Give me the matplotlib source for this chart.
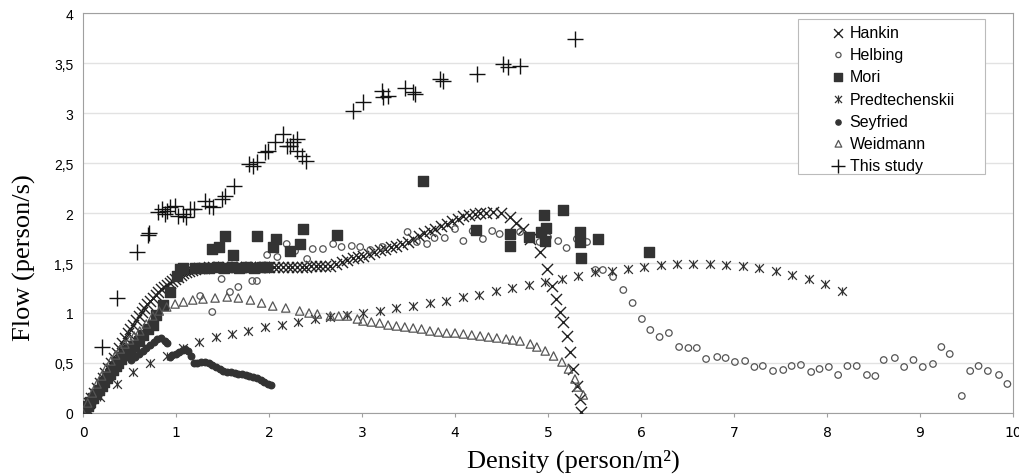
import matplotlib.pyplot as plt
from matplotlib.patches import Rectangle
from matplotlib.ticker import FuncFormatter

# Hankin (X)
hankin_x = [0.0, 0.03, 0.06, 0.09, 0.12, 0.15, 0.18, 0.21, 0.24, 0.27, 0.30, 0.33, 0.36, 0.39,
            0.42, 0.45, 0.48, 0.51, 0.54, 0.57, 0.60, 0.63, 0.66, 0.69, 0.72, 0.75, 0.78, 0.81,
            0.84, 0.87, 0.90, 0.93, 0.96, 0.99, 1.02, 1.05, 1.08, 1.11, 1.14, 1.17, 1.20, 1.25,
            1.30, 1.35, 1.40, 1.45, 1.50, 1.55, 1.60, 1.65, 1.70, 1.75, 1.80, 1.85, 1.90, 1.95,
            2.00, 2.05, 2.10, 2.15, 2.20, 2.25, 2.30, 2.35, 2.40, 2.45, 2.50, 2.55, 2.60, 2.66,
            2.72, 2.78, 2.84, 2.90, 2.96, 3.01, 3.07, 3.13, 3.19, 3.25, 3.31, 3.37, 3.43, 3.49,
            3.55, 3.61, 3.67, 3.73, 3.79, 3.85, 3.91, 3.97, 4.03, 4.09, 4.15, 4.21, 4.27, 4.33,
            4.41, 4.50, 4.59, 4.66, 4.73, 4.81, 4.91, 4.99, 5.04, 5.09, 5.13, 5.16, 5.20, 5.24,
            5.27, 5.31, 5.34, 5.35]
hankin_y = [0.0, 0.05, 0.10, 0.15, 0.20, 0.25, 0.30, 0.35, 0.40, 0.45, 0.50, 0.55, 0.60, 0.65,
            0.70, 0.75, 0.80, 0.84, 0.88, 0.93, 0.97, 1.01, 1.05, 1.09, 1.12, 1.15, 1.18, 1.21,
            1.24, 1.26, 1.28, 1.30, 1.32, 1.34, 1.36, 1.38, 1.40, 1.41, 1.42, 1.43, 1.44, 1.45,
            1.45, 1.46, 1.46, 1.46, 1.46, 1.46, 1.46, 1.46, 1.46, 1.46, 1.46, 1.46, 1.46, 1.46,
            1.46, 1.46, 1.46, 1.46, 1.46, 1.46, 1.46, 1.46, 1.46, 1.47, 1.47, 1.47, 1.47, 1.47,
            1.49, 1.51, 1.53, 1.55, 1.56, 1.57, 1.59, 1.61, 1.63, 1.64, 1.66, 1.67, 1.69, 1.71,
            1.74, 1.77, 1.80, 1.82, 1.84, 1.87, 1.89, 1.92, 1.94, 1.97, 1.98, 1.99, 2.0, 2.0,
            2.01, 2.0, 1.96, 1.90, 1.84, 1.74, 1.61, 1.44, 1.27, 1.14, 1.01, 0.91, 0.77, 0.61,
            0.44, 0.27, 0.14, 0.01]

# Helbing (open circles)
helbing_x = [1.26, 1.39, 1.49, 1.58, 1.67, 1.82, 1.87, 1.98, 2.09, 2.19, 2.28, 2.41, 2.47, 2.58,
             2.69, 2.78, 2.89, 2.98, 3.09, 3.22, 3.49, 3.59, 3.70, 3.78, 3.89, 4.00, 4.09, 4.19,
             4.30, 4.40, 4.48, 4.70, 4.81, 4.91, 5.00, 5.11, 5.20, 5.31, 5.42, 5.51, 5.59, 5.70,
             5.81, 5.91, 6.01, 6.10, 6.20, 6.30, 6.41, 6.51, 6.60, 6.70, 6.82, 6.91, 7.01, 7.12,
             7.22, 7.31, 7.42, 7.53, 7.62, 7.72, 7.83, 7.92, 8.02, 8.12, 8.22, 8.32, 8.43, 8.52,
             8.61, 8.73, 8.83, 8.93, 9.03, 9.14, 9.23, 9.32, 9.45, 9.54, 9.63, 9.73, 9.85, 9.94]
helbing_y = [1.17, 1.01, 1.34, 1.21, 1.26, 1.32, 1.32, 1.58, 1.56, 1.69, 1.62, 1.54, 1.64, 1.64,
             1.69, 1.66, 1.67, 1.66, 1.63, 1.66, 1.81, 1.71, 1.69, 1.75, 1.75, 1.84, 1.72, 1.82,
             1.74, 1.82, 1.79, 1.81, 1.75, 1.71, 1.76, 1.72, 1.65, 1.74, 1.71, 1.43, 1.43, 1.36,
             1.23, 1.10, 0.94, 0.83, 0.76, 0.80, 0.66, 0.65, 0.65, 0.54, 0.56, 0.55, 0.51, 0.52,
             0.46, 0.47, 0.42, 0.43, 0.47, 0.48, 0.41, 0.44, 0.46, 0.38, 0.47, 0.47, 0.38, 0.37,
             0.53, 0.55, 0.46, 0.53, 0.46, 0.49, 0.66, 0.59, 0.17, 0.42, 0.47, 0.42, 0.38, 0.29]

# Mori (filled squares)
mori_x = [0.02, 0.05, 0.08, 0.11, 0.14, 0.17, 0.20, 0.23, 0.26, 0.29, 0.32, 0.35, 0.38, 0.41,
          0.44, 0.47, 0.51, 0.55, 0.60, 0.65, 0.70, 0.75, 0.79, 0.86, 0.94, 1.01, 1.04, 1.08,
          1.20, 1.28, 1.36, 1.44, 1.52, 1.60, 1.68, 1.76, 1.84, 1.92, 1.98,
          1.39, 1.46, 1.53, 1.61, 1.87, 2.04, 2.07, 2.23, 2.33, 2.37, 2.73, 3.66, 4.23, 4.59,
          4.59, 4.80, 4.92, 4.96, 4.98, 4.97, 5.16, 5.34, 5.34, 5.35, 5.54, 6.09]
mori_y = [0.03, 0.07, 0.11, 0.15, 0.19, 0.23, 0.27, 0.31, 0.35, 0.39, 0.43, 0.47, 0.50, 0.54,
          0.58, 0.62, 0.64, 0.67, 0.72, 0.78, 0.84, 0.88, 0.98, 1.08, 1.21, 1.37, 1.44, 1.45,
          1.45, 1.45, 1.45, 1.46, 1.45, 1.46, 1.45, 1.46, 1.45, 1.46, 1.46,
          1.64, 1.66, 1.77, 1.58, 1.77, 1.66, 1.74, 1.62, 1.69, 1.84, 1.78, 2.32, 1.83, 1.79,
          1.67, 1.76, 1.81, 1.98, 1.85, 1.72, 2.03, 1.81, 1.71, 1.55, 1.74, 1.61]

# Predtechenskii (star)
pred_x = [0.0, 0.18, 0.37, 0.54, 0.72, 0.90, 1.08, 1.25, 1.43, 1.60, 1.77, 1.96, 2.14, 2.31,
          2.49, 2.66, 2.84, 3.01, 3.19, 3.37, 3.55, 3.73, 3.90, 4.09, 4.26, 4.44, 4.61, 4.80,
          4.97, 5.15, 5.32, 5.51, 5.69, 5.86, 6.03, 6.21, 6.39, 6.56, 6.74, 6.91, 7.10, 7.27,
          7.45, 7.62, 7.81, 7.98, 8.16]
pred_y = [0.0, 0.16, 0.29, 0.41, 0.50, 0.57, 0.65, 0.71, 0.76, 0.79, 0.82, 0.86, 0.88, 0.91,
          0.94, 0.96, 0.98, 1.00, 1.02, 1.05, 1.07, 1.10, 1.12, 1.16, 1.18, 1.22, 1.25, 1.28,
          1.31, 1.34, 1.37, 1.41, 1.42, 1.44, 1.46, 1.48, 1.49, 1.49, 1.49, 1.48, 1.47, 1.45,
          1.42, 1.38, 1.34, 1.29, 1.22]

# Seyfried (filled dots)
seyf_x = [0.52, 0.56, 0.60, 0.64, 0.68, 0.72, 0.76, 0.80, 0.84, 0.88, 0.90, 0.93, 0.96, 1.00,
          1.03, 1.07, 1.10, 1.13, 1.16, 1.19, 1.23, 1.27, 1.31, 1.35, 1.39, 1.43, 1.47, 1.51,
          1.55, 1.59, 1.63, 1.67, 1.71, 1.75, 1.79, 1.83, 1.87, 1.91, 1.95, 1.99, 2.02]
seyf_y = [0.53, 0.56, 0.59, 0.62, 0.65, 0.68, 0.71, 0.74, 0.75, 0.72, 0.70, 0.56, 0.58, 0.59,
          0.61, 0.63, 0.64, 0.62, 0.57, 0.50, 0.50, 0.51, 0.51, 0.50, 0.48, 0.46, 0.44, 0.42,
          0.41, 0.41, 0.40, 0.39, 0.39, 0.38, 0.37, 0.36, 0.35, 0.33, 0.31, 0.29, 0.28]

# Weidmann (open triangles)
weid_x = [0.0, 0.05, 0.10, 0.15, 0.20, 0.25, 0.30, 0.35, 0.40, 0.45, 0.50, 0.55, 0.61, 0.68,
          0.75, 0.82, 0.90, 0.99, 1.08, 1.18, 1.29, 1.42, 1.55, 1.67, 1.80, 1.92, 2.04, 2.18,
          2.33, 2.43, 2.52, 2.66, 2.75, 2.84, 2.95, 3.01, 3.10, 3.19, 3.28, 3.37, 3.46, 3.55,
          3.64, 3.73, 3.82, 3.91, 4.00, 4.09, 4.18, 4.27, 4.36, 4.45, 4.55, 4.62, 4.70, 4.81,
          4.88, 4.97, 5.06, 5.15, 5.22, 5.29, 5.32, 5.38]
weid_y = [0.0, 0.10, 0.20, 0.29, 0.37, 0.45, 0.52, 0.58, 0.64, 0.69, 0.73, 0.77, 0.82, 0.89,
          0.97, 1.02, 1.06, 1.09, 1.11, 1.13, 1.14, 1.15, 1.16, 1.15, 1.13, 1.10, 1.07, 1.05,
          1.02, 1.00, 0.99, 0.97, 0.97, 0.97, 0.94, 0.92, 0.91, 0.90, 0.88, 0.87, 0.86, 0.85,
          0.84, 0.82, 0.81, 0.80, 0.80, 0.79, 0.78, 0.77, 0.76, 0.75, 0.74, 0.73, 0.72, 0.69,
          0.66, 0.62, 0.57, 0.51, 0.44, 0.34, 0.26, 0.18]

# This study (+)
study_x = [0.20, 0.37, 0.58, 0.70, 0.71, 0.81, 0.85, 0.88, 0.90, 0.94, 0.99, 1.02, 1.07, 1.11,
           1.15, 1.19, 1.31, 1.35, 1.40, 1.49, 1.53, 1.62, 1.78, 1.83, 1.87, 1.96, 1.99, 2.06,
           2.15, 2.19, 2.23, 2.26, 2.30, 2.30, 2.35, 2.40, 2.90, 3.01, 3.21, 3.23, 3.28, 3.46,
           3.55, 3.57, 3.84, 3.87, 4.24, 4.52, 4.57, 4.70, 5.29]
study_y = [0.66, 1.15, 1.61, 1.78, 1.80, 2.01, 2.04, 1.99, 2.02, 2.06, 2.07, 1.97, 1.99, 1.96,
           2.04, 2.04, 2.12, 2.07, 2.06, 2.14, 2.17, 2.27, 2.49, 2.47, 2.51, 2.61, 2.62, 2.71,
           2.79, 2.67, 2.67, 2.71, 2.74, 2.62, 2.57, 2.52, 3.02, 3.11, 3.22, 3.16, 3.17, 3.25,
           3.21, 3.19, 3.34, 3.32, 3.39, 3.49, 3.46, 3.47, 3.74]

fig = plt.figure(figsize=(10.2, 4.77), dpi=100)
ax = fig.add_axes([0.0814, 0.1321, 0.9117, 0.8385])

ax.scatter(hankin_x, hankin_y, marker='x', s=64, c='#222222', linewidths=1.0, label='Hankin', zorder=3)
ax.scatter(helbing_x, helbing_y, marker='o', s=22, facecolors='none', edgecolors='#555555',
           linewidths=0.9, label='Helbing', zorder=3)
ax.scatter(mori_x, mori_y, marker='s', s=45, c='#333333', label='Mori', zorder=3)
p1 = ax.scatter(pred_x, pred_y, marker='x', s=40, c='#333333', linewidths=0.9, zorder=3)
p2 = ax.scatter(pred_x, pred_y, marker='|', s=40, c='#333333', linewidths=0.9, zorder=3)
ax.scatter(seyf_x, seyf_y, marker='o', s=22, c='#333333', label='Seyfried', zorder=3)
ax.scatter(weid_x, weid_y, marker='^', s=36, facecolors='none', edgecolors='#555555',
           linewidths=0.9, label='Weidmann', zorder=3)
ax.scatter(study_x, study_y, marker='+', s=140, c='#111111', linewidths=1.0, label='This study', zorder=4)

ax.set_xlim(0, 10)
ax.set_ylim(0, 4)
ax.set_xticks(range(0, 11))
ax.set_yticks([0, 0.5, 1, 1.5, 2, 2.5, 3, 3.5, 4])
ax.yaxis.set_major_formatter(FuncFormatter(lambda v, p: ('%g' % v).replace('.', ',')))
ax.grid(axis='y', color='#e2e2e2', linewidth=1.0)
ax.set_axisbelow(True)
for s in ax.spines.values():
    s.set_color('#a0a0a0')
ax.tick_params(axis='y', length=0, labelsize=10, pad=7)
ax.tick_params(axis='x', length=3, color='#a0a0a0', labelsize=10, pad=6)
for lab in ax.get_xticklabels():
    lab.set_family(['Liberation Sans Narrow', 'DejaVu Sans Condensed', 'DejaVu Sans'])
for lab in ax.get_yticklabels():
    lab.set_family(['Liberation Sans', 'DejaVu Sans'])

ax.set_xlabel('Density (person/m²)', family='Liberation Serif', fontsize=19)
ax.set_ylabel('Flow (person/s)', family='Liberation Serif', fontsize=19)
ax.xaxis.set_label_coords(0.527, -0.09)
ax.yaxis.set_label_coords(-0.051, 0.39)

# legend box drawn separately (wide Excel-style frame)
ax.add_patch(Rectangle((0.769, 0.5975), 0.201, 0.3875, transform=ax.transAxes, facecolor='white',
                       edgecolor='#bbbbbb', linewidth=0.8, zorder=5))
h, l = ax.get_legend_handles_labels()
h.insert(3, (p1, p2))
l.insert(3, 'Predtechenskii')
leg = ax.legend(h, l, loc='upper left', bbox_to_anchor=(0.790, 0.998), frameon=False,
                prop={'family': 'Liberation Sans', 'size': 11.5},
                handletextpad=0.1, handlelength=1.2, labelspacing=0.45, borderpad=0.2,
                markerscale=0.8)
leg.set_zorder(6)

fig.savefig('out.png', dpi=100)
